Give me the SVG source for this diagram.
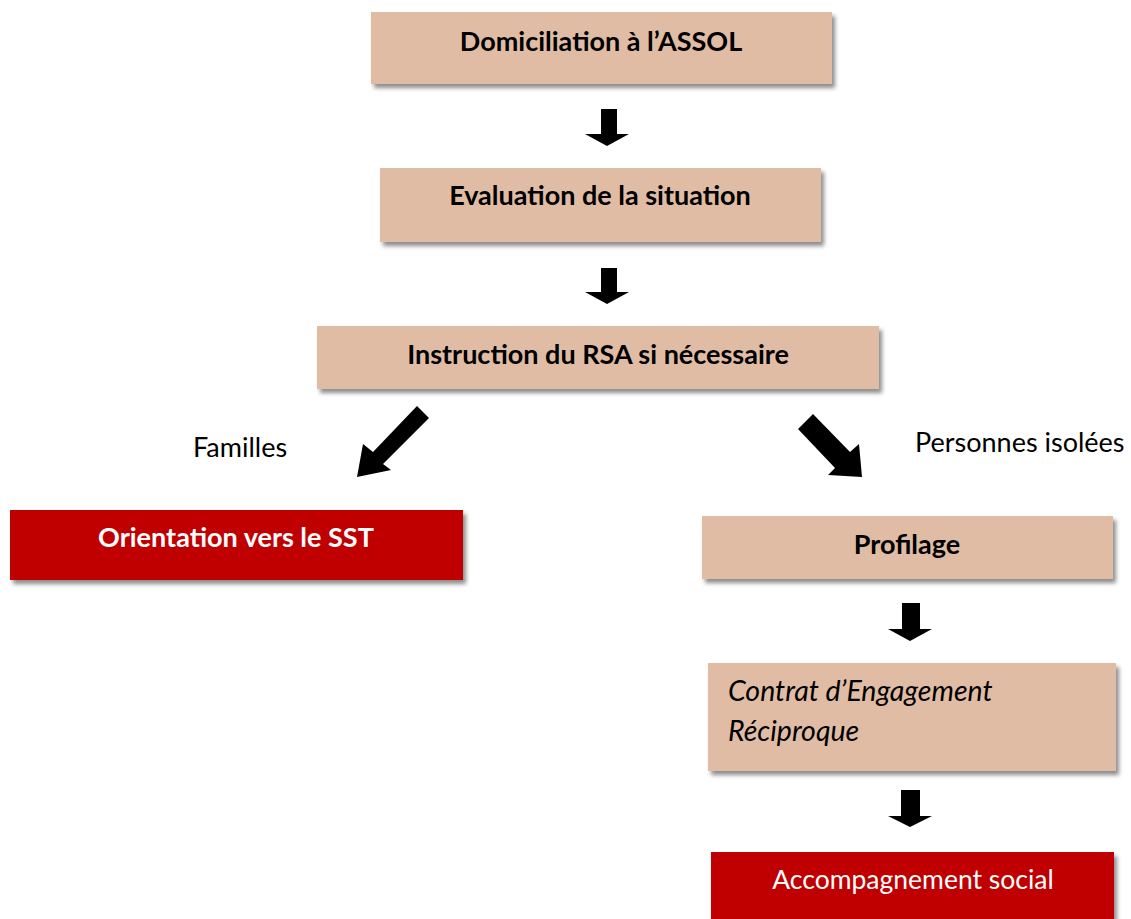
<svg xmlns="http://www.w3.org/2000/svg" width="1131" height="919" viewBox="0 0 1131 919">
<defs>
<filter id="sh" x="-10%" y="-20%" width="120%" height="150%">
<feDropShadow dx="3" dy="4" stdDeviation="2" flood-color="#000" flood-opacity="0.45"/>
</filter>
<style>
.tan{fill:#E1BCA4;filter:url(#sh)}
.red{fill:#C00000;filter:url(#sh)}
.t{font-family:Lato,"Liberation Sans",sans-serif;font-size:27px;text-anchor:middle;dominant-baseline:central}
.b{font-weight:bold;fill:#000}
.w{fill:#fff}
.i{font-style:italic;text-anchor:start;font-size:28.5px}
.r{font-size:26.5px}
.lbl{font-family:Lato,"Liberation Sans",sans-serif;font-size:27px;fill:#000}
.arr{fill:#000}
</style>
</defs>
<rect width="1131" height="919" fill="#fff"/>
<g id="connectors">
<polygon class="arr" points="601,109 617,109 617,134 629,134 607,146 585,134 601,134"/>
<polygon class="arr" points="601,268 617,268 617,292 629,292 607,304 585,292 601,292"/>
<polygon class="arr" points="902,603 920,603 920,629 932,629 910,641 888,629 902,629"/>
<polygon class="arr" points="901,790 920,790 920,816 932,816 910,827 888,816 901,816"/>
<polygon class="arr" points="417,406 429,418 383,464 391,470 357,477 363,444 373,452"/>
<polygon class="arr" points="813,414 798,429 835,468 828,475 862,477 859,444 850,452"/>
</g>
<g id="n1"><rect class="tan" x="371" y="12" width="461" height="72"/><text class="t b" x="601" y="40">Domiciliation à l’ASSOL</text></g>
<g id="n2"><rect class="tan" x="380" y="168" width="441" height="74"/><text class="t b" x="600" y="194">Evaluation de la situation</text></g>
<g id="n3"><rect class="tan" x="317" y="326" width="562" height="63"/><text class="t b" x="598" y="353">Instruction du RSA si nécessaire</text></g>
<g id="lbl1"><text class="lbl" x="193" y="457">Familles</text></g>
<g id="lbl2"><text class="lbl" x="915" y="452">Personnes isolées</text></g>
<g id="n4"><rect class="red" x="10" y="510" width="453" height="70"/><text class="t b w" x="236" y="536">Orientation vers le SST</text></g>
<g id="n5"><rect class="tan" x="702" y="516" width="411" height="63"/><text class="t b" x="907" y="543">Profilage</text></g>
<g id="n6"><rect class="tan" x="708" y="663" width="408" height="108"/><text class="t i" x="728" y="690">Contrat d’Engagement</text><text class="t i" x="728" y="730">Réciproque</text></g>
<g id="n7"><rect class="red" x="711" y="852" width="403" height="70"/><text class="t r w" x="913" y="879">Accompagnement social</text></g>
</svg>
